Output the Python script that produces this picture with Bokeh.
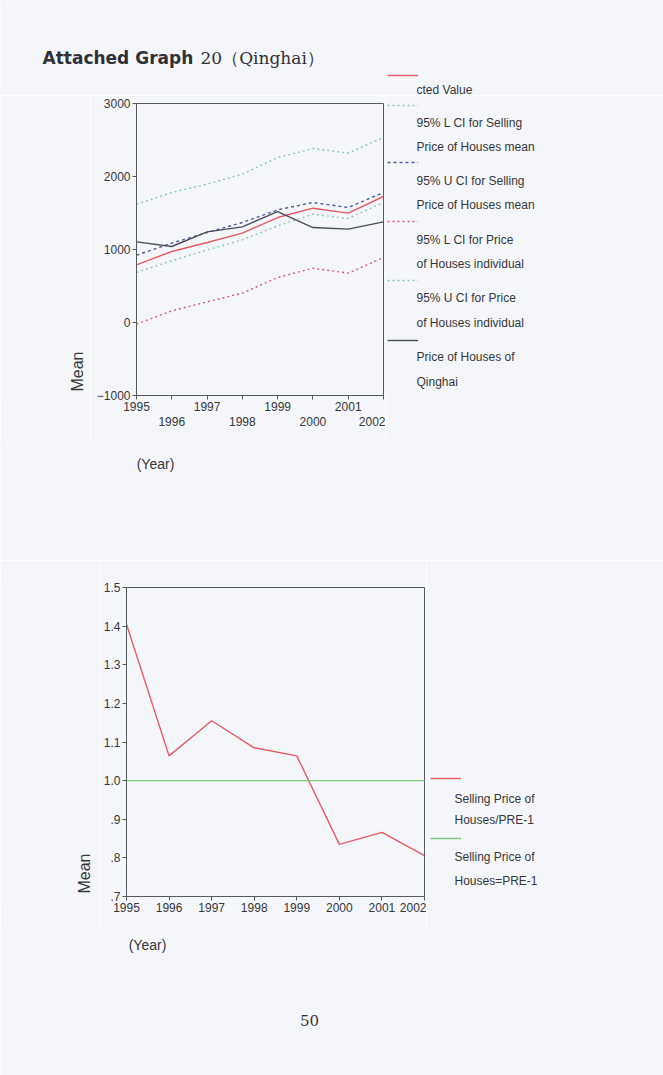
from bokeh.plotting import figure
from bokeh.models import (Range1d, FixedTicker, LinearAxis, CustomJSTickFormatter,
                          Label, Legend, LegendItem)
from bokeh.layouts import column, row
from bokeh.embed import file_html
from bokeh.resources import INLINE
import math

# ---------------- data ----------------
years = [1995, 1996, 1997, 1998, 1999, 2000, 2001, 2002]
even_years = [1996, 1998, 2000, 2002]

predicted = [790, 973, 1096, 1224, 1438, 1566, 1498, 1726]
lci_mean = [685, 845, 995, 1132, 1324, 1484, 1425, 1644]
uci_mean = [922, 1087, 1233, 1370, 1543, 1644, 1575, 1781]
lci_ind = [-23, 160, 283, 402, 616, 744, 676, 890]
uci_ind = [1621, 1780, 1895, 2032, 2260, 2384, 2320, 2534]
actual = [1105, 1041, 1242, 1310, 1520, 1301, 1279, 1379]
y1_ticks = [-1000, 0, 1000, 2000, 3000]

ratio = [1.405, 1.064, 1.155, 1.085, 1.064, 0.835, 0.866, 0.806]
baseline = [1.0, 1.0, 1.0, 1.0, 1.0, 1.0, 1.0, 1.0]
y2_ticks = [0.7, 0.8, 0.9, 1.0, 1.1, 1.2, 1.3, 1.4, 1.5]

title_bold = "Attached Graph"
title_rest = "20（Qinghai）"
legend1_texts = [
    ["cted Value"],
    ["95% L CI for Selling", "Price of Houses mean"],
    ["95% U CI for Selling", "Price of Houses mean"],
    ["95% L CI for Price", "of Houses individual"],
    ["95% U CI for Price", "of Houses individual"],
    ["Price of Houses of", "Qinghai"],
]
legend2_texts = [
    ["Selling Price of", "Houses/PRE-1"],
    ["Selling Price of", "Houses=PRE-1"],
]
y_title = "Mean"
x_title = "(Year)"
page_number = "50"

# ---------------- style ----------------
BG = "#f5f6fa"
AX = "#555a60"
TXT = "#34373b"
FONT = "Liberation Sans"
RED = "#e65a66"
GREEN = "#88c9aa"
BLUE = "#4d5aa6"
PINK = "#d95a7c"
BLACK = "#4a4e54"
GREEN2 = "#7cc87a"

S1 = dict(line_color=RED, line_width=1.4)
S2 = dict(line_color=GREEN, line_width=1.4, line_dash="2 3")
S3 = dict(line_color=BLUE, line_width=1.4, line_dash="3 3")
S4 = dict(line_color=PINK, line_width=1.4, line_dash="2 3")
S5 = dict(line_color=GREEN, line_width=1.4, line_dash="2 3")
S6 = dict(line_color=BLACK, line_width=1.4)
S7 = dict(line_color=RED, line_width=1.4)
S8 = dict(line_color=GREEN2, line_width=1.4)
NAN = float("nan")


def strip(w, h):
    p = figure(width=w, height=h, min_border=0, x_axis_type=None, y_axis_type=None,
               x_range=Range1d(0, 1), y_range=Range1d(0, 1),
               output_backend="svg", toolbar_location=None,
               background_fill_color=BG, border_fill_color=BG)
    p.outline_line_color = None
    p.xgrid.visible = False
    p.ygrid.visible = False
    return p


def style_axes(p):
    for ax in p.axis:
        ax.axis_line_color = AX
        ax.major_tick_line_color = AX
        ax.minor_tick_line_color = None
        ax.major_tick_in = 0
        ax.major_tick_out = 4
        ax.major_label_text_font = FONT
        ax.major_label_text_font_size = "12px"
        ax.major_label_text_color = TXT
        ax.major_label_standoff = 2
    p.xgrid.visible = False
    p.ygrid.visible = False


def add_text(p, sx, sy, text, size="12px", font=FONT, style="normal", align="left",
             angle=0.0, color=TXT):
    p.add_layout(Label(x=sx, y=sy, x_units="screen", y_units="screen", text=text,
                       text_font=font, text_font_size=size, text_font_style=style,
                       text_color=color, text_align=align, text_baseline="middle",
                       angle=angle))


def add_swatch(p, style, sx, sy):
    # legend-only renderer (no visible data); legend key drawn with its line style
    r = p.line(x=[NAN], y=[NAN], **style)
    leg = Legend(items=[LegendItem(label=" ", renderers=[r])], location=(sx, sy - 2),
                 glyph_width=31, glyph_height=4, label_height=4, label_width=0,
                 label_standoff=0, label_text_font_size="1px", padding=0, margin=0,
                 spacing=0, border_line_color=None, background_fill_alpha=0)
    p.add_layout(leg)


# ---------------- top strip: title + first legend entry ----------------
TOP_H = 95
top = strip(663, TOP_H)
add_text(top, 42, TOP_H - 57, title_bold, size="17px", font="DejaVu Sans", style="bold",
         color="#2e3136")
add_text(top, 200, TOP_H - 57, title_rest, size="17px", font="DejaVu Serif", color="#2e3136")
add_swatch(top, S1, 387, TOP_H - 75)
add_text(top, 416, TOP_H - 89, legend1_texts[0][0], size="12px")

# ---------------- chart 1 row (page y 95..440, frame 103..395) ----------------
FB1 = 395  # frame bottom (page px); side strips share this frame
left1 = strip(90, 345)
add_text(left1, 77, FB1 - 371, y_title, size="16px", align="center", angle=math.pi / 2)

p1 = figure(frame_width=247, frame_height=292, min_border_left=46, min_border_top=8,
            min_border_right=2, min_border_bottom=45,
            x_range=Range1d(1995, 2002), y_range=Range1d(-1000, 3000),
            output_backend="svg", toolbar_location=None,
            background_fill_color=BG, border_fill_color=BG)
p1.outline_line_color = AX
p1.xaxis.ticker = FixedTicker(ticks=years)
p1.xaxis.formatter = CustomJSTickFormatter(code="return (tick % 2 == 1) ? tick.toString() : '';")
p1.yaxis.ticker = FixedTicker(ticks=y1_ticks)
ax_even = LinearAxis(ticker=FixedTicker(ticks=even_years))
p1.add_layout(ax_even, "below")
style_axes(p1)
ax_even.axis_line_color = None
ax_even.major_tick_line_color = None
ax_even.major_tick_out = 0
ax_even.major_label_standoff = 3

p1.line(years, predicted, **S1)
p1.line(years, lci_mean, **S2)
p1.line(years, uci_mean, **S3)
p1.line(years, lci_ind, **S4)
p1.line(years, uci_ind, **S5)
p1.line(years, actual, **S6)

leg1 = strip(278, 345)
sw_y = [105, 162, 221, 280, 340]
text_y = [[122, 146], [180, 204], [239, 263], [297, 322], [356, 381]]
for st, yy, texts, tys in zip([S2, S3, S4, S5, S6], sw_y, legend1_texts[1:], text_y):
    add_swatch(leg1, st, 2, FB1 - yy)
    for t, ty in zip(texts, tys):
        add_text(leg1, 31, FB1 - ty, t, size="12px")

mid = strip(663, 120)
add_text(mid, 155, 560 - 463, x_title, size="14px", align="center")

# ---------------- chart 2 row (page y 560..930, frame 587..896) ----------------
FB2 = 896
left2 = strip(100, 370)
add_text(left2, 84, FB2 - 873, y_title, size="16px", align="center", angle=math.pi / 2)

p2 = figure(frame_width=298, frame_height=309, min_border_left=25, min_border_top=27,
            min_border_right=2, min_border_bottom=34,
            x_range=Range1d(1995, 2002), y_range=Range1d(0.7, 1.5),
            output_backend="svg", toolbar_location=None,
            background_fill_color=BG, border_fill_color=BG)
p2.outline_line_color = AX
p2.xaxis.ticker = FixedTicker(ticks=years)
p2.yaxis.ticker = FixedTicker(ticks=y2_ticks)
p2.yaxis.formatter = CustomJSTickFormatter(code="return tick.toFixed(1).replace(/^0/, '');")
style_axes(p2)

p2.line(years, ratio, **S7)
p2.line(years, baseline, **S8)

leg2 = strip(238, 370)
sw2_y = [778, 838]
text2_y = [[798, 819], [856, 880]]
for st, yy, texts, tys in zip([S7, S8], sw2_y, legend2_texts, text2_y):
    add_swatch(leg2, st, 4, FB2 - yy)
    for t, ty in zip(texts, tys):
        add_text(leg2, 28, FB2 - ty, t, size="12px")

bot = strip(663, 145)
add_text(bot, 147, 1075 - 944, x_title, size="14px", align="center")
add_text(bot, 309, 1075 - 1020, page_number, size="15px", font="DejaVu Serif", align="center")

layout = column(top, row(left1, p1, leg1, spacing=0), mid,
                row(left2, p2, leg2, spacing=0), bot, spacing=0)
open("out.html", "w").write(file_html(layout, INLINE))
